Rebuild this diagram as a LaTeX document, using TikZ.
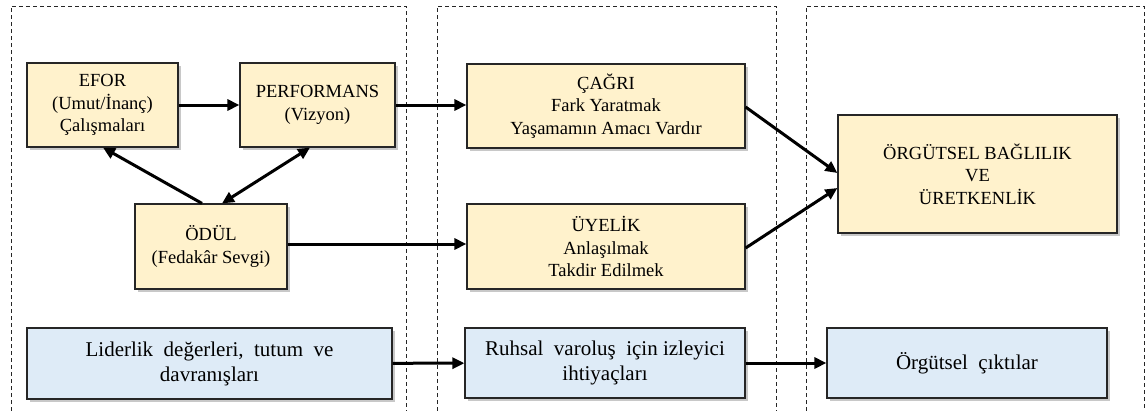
\documentclass[tikz,border=0pt]{standalone}
\usepackage{fontspec}
\setmainfont{Liberation Serif}
\usetikzlibrary{arrows.meta,shadows,calc}
\definecolor{boxyellow}{HTML}{FFF2CC}
\definecolor{boxblue}{HTML}{DEEBF7}
\tikzset{
  panel/.style={draw=black!85, line width=0.9pt, dash pattern=on 4pt off 3pt},
  basebox/.style={draw=black!85, line width=1.2pt, rectangle, align=center, inner sep=2pt,
    drop shadow={shadow xshift=2.5pt, shadow yshift=-3pt, opacity=0.3, fill=black!70}},
  ybox/.style={basebox, fill=boxyellow, font=\fontsize{18.5}{22.5}\selectfont},
  bbox/.style={basebox, fill=boxblue, font=\fontsize{21}{25}\selectfont},
  arr/.style={line width=3pt, -{Triangle[length=12pt,width=11pt]}},
  darr/.style={line width=3pt, {Triangle[length=12pt,width=11pt]}-{Triangle[length=12pt,width=11pt]}},
}
\begin{document}
\begin{tikzpicture}[x=1pt,y=-1pt]
\useasboundingbox (0,0) rectangle (1147,410);
\fill[white] (0,0) rectangle (1147,410);
% panels
\draw[panel] (11,425) -- (11,6) -- (406,6) -- (406,425);
\draw[panel] (437,425) -- (437,6) -- (776,6) -- (776,425);
\draw[panel] (806,425) -- (806,6) -- (1144,6) -- (1144,425);
% nodes
\node[ybox, minimum width=151pt, minimum height=84pt] (efor) at (102.5,105) {EFOR\\(Umut/İnanç)\\Çalışmaları};
\node[ybox, minimum width=155pt, minimum height=84pt] (perf) at (317.5,105) {PERFORMANS\\(Vizyon)};
\node[ybox, minimum width=152pt, minimum height=85pt] (odul) at (211,246.5) {ÖDÜL\\(Fedakâr Sevgi)};
\node[bbox, minimum width=365pt, minimum height=71pt] (lider) at (209.5,363.5) {Liderlik\ \ değerleri,\ \ tutum\ \ ve\\davranışları};
\node[ybox, minimum width=278pt, minimum height=84pt] (cagri) at (606,106) {ÇAĞRI\\Fark Yaratmak\\Yaşamamın Amacı Vardır};
\node[ybox, minimum width=278pt, minimum height=85pt] (uyelik) at (606,246.5) {ÜYELİK\\Anlaşılmak\\Takdir Edilmek};
\node[bbox, minimum width=280pt, minimum height=70pt] (ruhsal) at (605,363) {Ruhsal\ \ varoluş\ \ için izleyici\\ihtiyaçları};
\node[ybox, minimum width=279pt, minimum height=118pt] (org) at (977.5,174) {ÖRGÜTSEL BAĞLILIK\\VE\\ÜRETKENLİK};
\node[bbox, minimum width=280pt, minimum height=70pt] (cikti) at (967,363) {Örgütsel\ \ çıktılar};
% connectors
\draw[arr] (efor) -- (perf);
\draw[arr] (perf) -- (cagri.west |- perf);
\draw[arr] ([xshift=-9pt]odul.north) -- ([xshift=0.5pt]efor.south);
\draw[darr] ([xshift=11pt]odul.north) -- ([xshift=-7.5pt]perf.south);
\draw[arr] ([yshift=2.5pt]odul.east) -- ([yshift=2.5pt]uyelik.west);
\draw[arr] ([yshift=-1pt]cagri.east) -- ([yshift=1pt]org.west);
\draw[arr] ([yshift=-1.5pt]uyelik.east) -- ([yshift=-14pt]org.west);
\draw[arr] (lider) -- (ruhsal);
\draw[arr] (ruhsal) -- (cikti);
\end{tikzpicture}
\end{document}
